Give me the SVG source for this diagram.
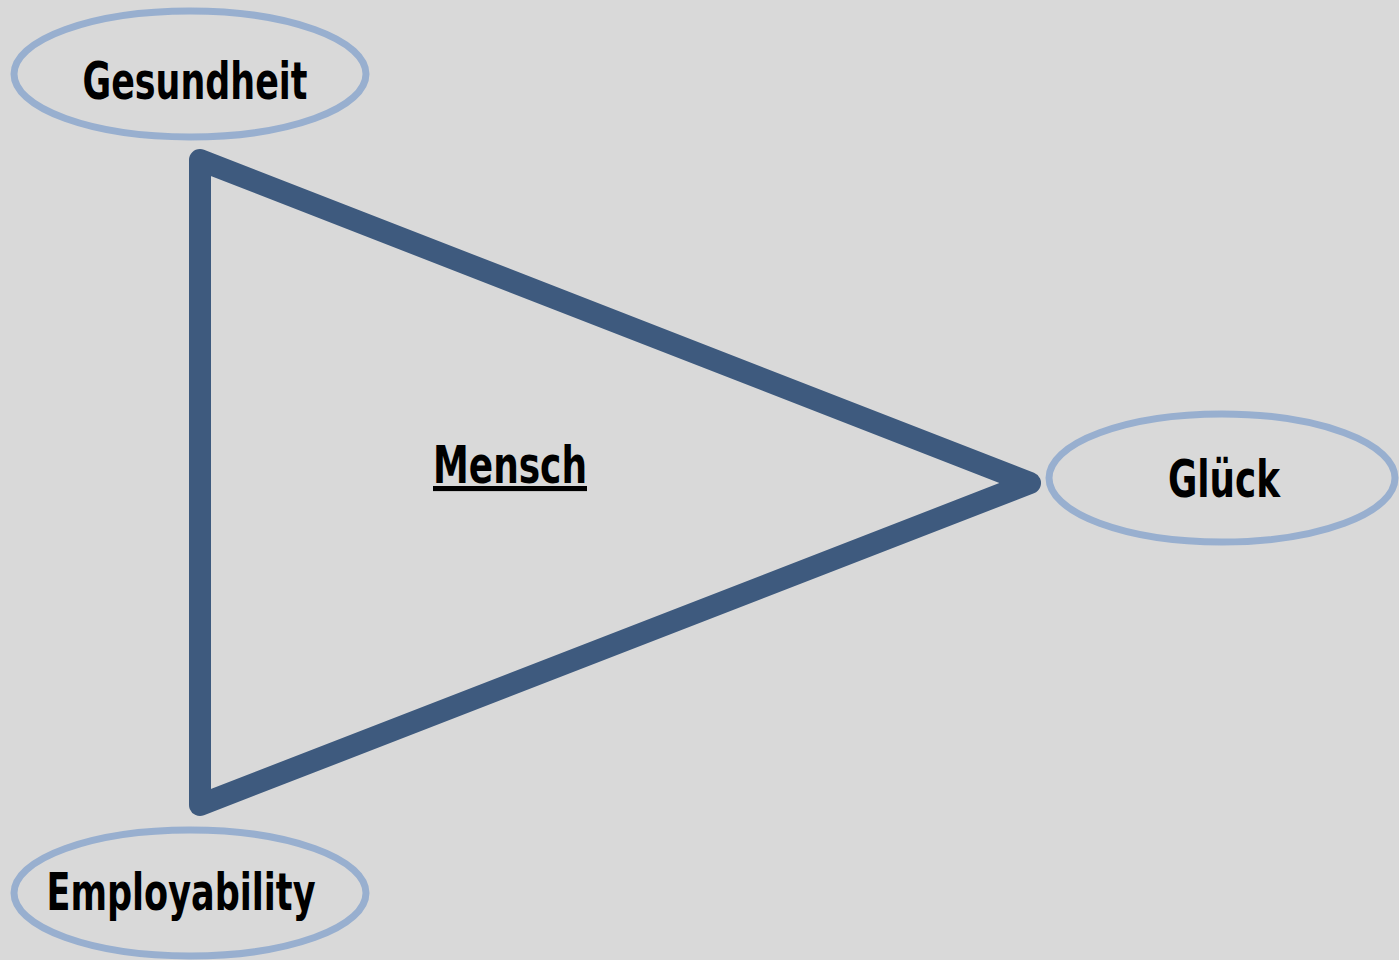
<svg xmlns="http://www.w3.org/2000/svg" width="1399" height="960" viewBox="0 0 1399 960">
<style>
.node ellipse{fill:none;stroke:#98afcf;stroke-width:7}
text{font-family:"Liberation Sans Narrow","DejaVu Sans Condensed",sans-serif;font-stretch:condensed;font-weight:bold;font-size:51px;fill:#000;text-anchor:middle}
</style>
<rect width="1399" height="960" fill="#d9d9d9"/>
<g id="connectors">
<polygon points="200,160 1030,483 200,805" fill="none" stroke="#3e5a7e" stroke-width="22" stroke-linejoin="round"/>
</g>
<g id="mensch"><text x="510" y="483" text-decoration="underline" textLength="154" lengthAdjust="spacingAndGlyphs">Mensch</text></g>
<g id="gesundheit" class="node"><ellipse cx="190" cy="74" rx="176" ry="63"/><text x="195" y="99" textLength="225" lengthAdjust="spacingAndGlyphs">Gesundheit</text></g>
<g id="employability" class="node"><ellipse cx="190" cy="893" rx="176" ry="63"/><text x="181" y="910" textLength="269" lengthAdjust="spacingAndGlyphs">Employability</text></g>
<g id="glueck" class="node"><ellipse cx="1222" cy="478" rx="173" ry="64"/><text x="1224" y="497" textLength="112" lengthAdjust="spacingAndGlyphs">Glück</text></g>
</svg>
